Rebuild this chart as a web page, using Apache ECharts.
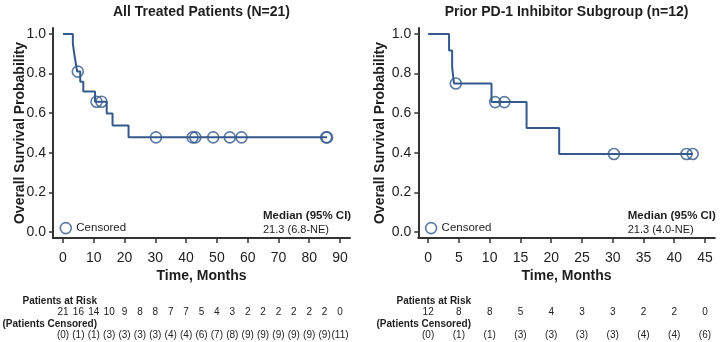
<!DOCTYPE html>
<html>
<head>
<meta charset="utf-8">
<script src="https://cdn.jsdelivr.net/npm/echarts@6/dist/echarts.min.js"></script>
<style>html,body{margin:0;padding:0;background:#fff}#c{width:720px;height:342px}</style>
</head>
<body>
<div id="c"></div>
<script>
// ---- Data: All Treated Patients (N=21) ----
const titleA = 'All Treated Patients (N=21)';
const stepTimesA = [0, 3.2, 3.6, 4.1, 4.6, 5.6, 6.6, 10.4, 14.2, 16.1, 21.3, 85.8];
const stepSurvA  = [1.0, 0.952, 0.905, 0.857, 0.810, 0.759, 0.709, 0.658, 0.598, 0.538, 0.478, 0.478];
const censTimesA = [4.8, 10.9, 12.5, 30.2, 42.1, 43.0, 48.8, 54.2, 58.0, 85.5, 85.8];
const censSurvA  = [0.810, 0.658, 0.658, 0.478, 0.478, 0.478, 0.478, 0.478, 0.478, 0.478, 0.478];
const riskTimesA = [0,5,10,15,20,25,30,35,40,45,50,55,60,65,70,75,80,85,90];
const atRiskA    = [21,16,14,10,9,8,8,7,7,5,4,3,2,2,2,2,2,2,0];
const censoredA  = [0,1,1,3,3,3,3,4,4,6,7,8,9,9,9,9,9,9,11];
const xTicksA    = [0,10,20,30,40,50,60,70,80,90];
const medianA    = '21.3 (6.8-NE)';

// ---- Data: Prior PD-1 Inhibitor Subgroup (n=12) ----
const titleB = 'Prior PD-1 Inhibitor Subgroup (n=12)';
const stepTimesB = [0, 3.4, 3.9, 4.2, 10.3, 16.0, 21.3, 43.0];
const stepSurvB  = [1.0, 0.917, 0.833, 0.750, 0.656, 0.525, 0.394, 0.394];
const censTimesB = [4.5, 10.9, 12.4, 30.2, 42.0, 43.0];
const censSurvB  = [0.750, 0.656, 0.656, 0.394, 0.394, 0.394];
const riskTimesB = [0,5,10,15,20,25,30,35,40,45];
const atRiskB    = [12,8,8,5,4,3,3,2,2,0];
const censoredB  = [0,1,1,3,3,3,3,4,4,6];
const xTicksB    = [0,5,10,15,20,25,30,35,40,45];
const medianB    = '21.3 (4.0-NE)';

const yTicks = [0, 0.2, 0.4, 0.6, 0.8, 1.0];

// ---- Styles ----
const FONT = '"Liberation Sans", Arial, sans-serif';
const BLUE = '#35598c';
const AX = '#333';
const TXT = '#1e1e1e';
const CLEAR = 'rgba(0,0,0,0)';

const zip = (a, b) => a.map((v, i) => [v, b[i]]);

const panels = [
  {left: 53, width: 297, xmin: -3.25, xmax: 93.25, ticks: xTicksA, nameGap: 26, title: titleA,
   step: zip(stepTimesA, stepSurvA), cens: zip(censTimesA, censSurvA),
   riskT: riskTimesA, risk: atRiskA, cz: censoredA, median: medianA, medX: 263, headR: 97},
  {left: 418.3, width: 296.5, xmin: -1.6, xmax: 46.6, ticks: xTicksB, nameGap: 31, title: titleB,
   step: zip(stepTimesB, stepSurvB), cens: zip(censTimesB, censSurvB),
   riskT: riskTimesB, risk: atRiskB, cz: censoredB, median: medianB, medX: 627.7, headR: 471}
];

const option = {
  animation: false,
  backgroundColor: '#fff',
  textStyle: {fontFamily: FONT},
  title: [], grid: [], xAxis: [], yAxis: [], series: [], legend: [], graphic: []
};

panels.forEach((p, i) => {
  option.title.push({
    text: p.title, left: p.left + p.width / 2, textAlign: 'center', top: 5, padding: 0,
    textStyle: {fontFamily: FONT, fontSize: 14, fontWeight: 'bold', color: TXT}
  });
  option.grid.push({left: p.left, width: p.width, top: 28, height: 210, containLabel: false});
  option.grid.push({left: p.left, width: p.width, top: 312.5, height: 22.3, containLabel: false});
  const gMain = i * 2, gRisk = i * 2 + 1;

  option.xAxis.push({
    gridIndex: gMain, type: 'value', min: p.xmin, max: p.xmax,
    name: 'Time, Months', nameLocation: 'middle', nameGap: 31, nameMoveOverlap: false,
    nameTextStyle: {fontFamily: FONT, fontSize: 14, fontWeight: 'bold', color: TXT},
    axisLine: {show: true, onZero: false, lineStyle: {color: AX, width: 2}},
    axisTick: {show: true, length: 5, lineStyle: {color: AX, width: 1.5}, customValues: p.ticks},
    axisLabel: {show: true, margin: 13, fontFamily: FONT, fontSize: 14, color: TXT, customValues: p.ticks},
    splitLine: {show: false}
  });
  option.xAxis.push({
    gridIndex: gRisk, type: 'value', min: p.xmin, max: p.xmax, show: false
  });
  option.yAxis.push({
    gridIndex: gMain, type: 'value', min: -0.03, max: 1.03,
    name: 'Overall Survival Probability', nameLocation: 'middle', nameGap: p.nameGap,
    nameMoveOverlap: false,
    nameTextStyle: {fontFamily: FONT, fontSize: 14, fontWeight: 'bold', color: TXT},
    axisLine: {show: true, onZero: false, lineStyle: {color: AX, width: 2}},
    axisTick: {show: true, length: 4, lineStyle: {color: AX, width: 1.5}, customValues: yTicks},
    axisLabel: {show: true, margin: 7, fontFamily: FONT, fontSize: 14, color: TXT,
      customValues: yTicks, formatter: v => v.toFixed(1)},
    splitLine: {show: false}
  });
  option.yAxis.push({
    gridIndex: gRisk, type: 'value', min: 0, max: 1, show: false
  });

  option.series.push({
    type: 'line', name: 'KM' + i, xAxisIndex: gMain, yAxisIndex: gMain, step: 'end',
    data: p.step, showSymbol: false, symbol: 'none',
    lineStyle: {color: BLUE, width: 2}, z: 3
  });
  option.series.push({
    type: 'scatter', name: 'Censored', xAxisIndex: gMain, yAxisIndex: gMain,
    data: p.cens, symbol: 'circle', symbolSize: 11,
    itemStyle: {color: CLEAR, borderColor: BLUE, borderWidth: 1.6}, z: 4
  });
  const labelRow = (rowY, vals, fmt) => ({
    type: 'scatter', xAxisIndex: gRisk, yAxisIndex: gRisk, symbol: 'circle', symbolSize: 2,
    itemStyle: {color: CLEAR}, silent: true, clip: false,
    data: p.riskT.map((t, k) => [t, rowY, vals[k]]),
    label: {show: true, position: 'inside', formatter: fmt, opacity: 1,
      fontFamily: FONT, fontSize: 10, color: '#222'},
    labelLayout: {hideOverlap: false}
  });
  option.series.push(labelRow(1, p.risk, q => String(q.value[2])));
  option.series.push(labelRow(0, p.cz, q => '(' + q.value[2] + ')'));

  option.legend.push({
    data: [{name: 'Censored', icon: 'circle'}], left: p.left + 1.5, top: 216.8,
    itemWidth: 11, itemHeight: 11, itemGap: 5, selectedMode: false,
    textStyle: {fontFamily: FONT, fontSize: 11.5, color: TXT},
    itemStyle: {color: CLEAR, borderColor: BLUE, borderWidth: 1.6}
  });

  option.graphic.push(
    {type: 'text', left: p.medX, top: 210, style: {text: 'Median (95% CI)', fontFamily: FONT,
      fontSize: 11.5, fontWeight: 'bold', fill: TXT}},
    {type: 'text', left: p.medX, top: 224.5, style: {text: p.median, fontFamily: FONT,
      fontSize: 11, fill: TXT}},
    {type: 'text', right: 720 - p.headR, top: 296.5, style: {text: 'Patients at Risk', fontFamily: FONT,
      fontSize: 10, fontWeight: 'bold', fill: TXT}},
    {type: 'text', right: 720 - p.headR, top: 319, style: {text: '(Patients Censored)', fontFamily: FONT,
      fontSize: 10, fontWeight: 'bold', fill: TXT}}
  );
});

const chart = echarts.init(document.getElementById('c'), null, {renderer: 'canvas'});
chart.setOption(option);
</script>
</body>
</html>
